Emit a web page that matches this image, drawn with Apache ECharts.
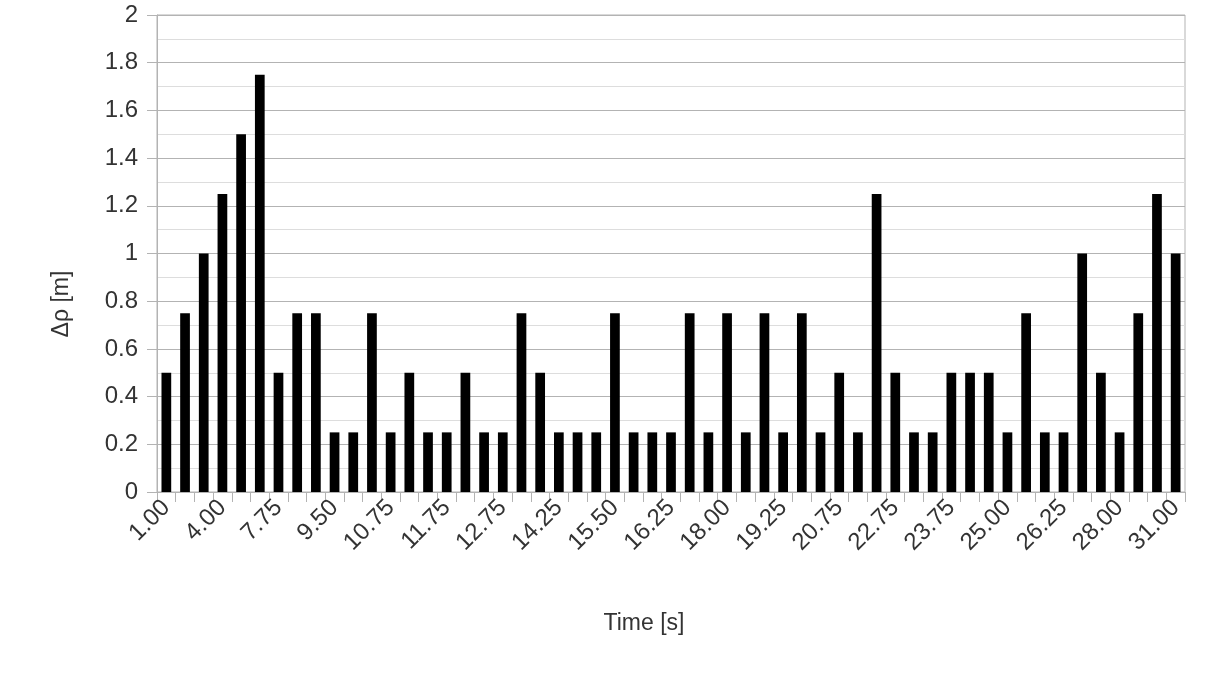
<!DOCTYPE html>
<html>
<head>
<meta charset="utf-8">
<script src="https://cdn.jsdelivr.net/npm/echarts@6/dist/echarts.min.js"></script>
<style>
html,body{margin:0;padding:0;background:#fff;}
#chart{width:1210px;height:680px;}
</style>
</head>
<body>
<div id="chart"></div>
<script>
// Time categories (only every third is labelled in the reference; the others are estimates)
const times = [
  "1.00","2.00","3.00","4.00","5.25","6.50","7.75","8.25","9.00",
  "9.50","9.75","10.25","10.75","11.00","11.50","11.75","12.00","12.50",
  "12.75","13.25","13.75","14.25","14.75","15.25","15.50","15.75","16.00",
  "16.25","16.75","17.50","18.00","18.50","19.00","19.25","19.75","20.25",
  "20.75","21.25","22.00","22.75","23.00","23.50","23.75","24.25","24.75",
  "25.00","25.50","25.75","26.25","26.75","27.50","28.00","29.00","30.00",
  "31.00"
];
// Δρ [m]
const deltaRho = [
  0.5,0.75,1.0,1.25,1.5,1.75,0.5,0.75,0.75,
  0.25,0.25,0.75,0.25,0.5,0.25,0.25,0.5,0.25,
  0.25,0.75,0.5,0.25,0.25,0.25,0.75,0.25,0.25,
  0.25,0.75,0.25,0.75,0.25,0.75,0.25,0.75,0.25,
  0.5,0.25,1.25,0.5,0.25,0.25,0.5,0.5,0.5,
  0.25,0.75,0.25,0.25,1.0,0.5,0.25,0.75,1.25,
  1.0
];
const xTitle = "Time [s]";
const yTitle = "Δρ [m]";

const chart = echarts.init(document.getElementById('chart'));
const font = "'Liberation Sans', Arial, sans-serif";
const FS = 24;
const TFS = 23;
chart.setOption({
  animation: false,
  backgroundColor: '#ffffff',
  grid: {left: 157, top: 15, width: 1028, height: 477, show: true, borderColor: '#b3b3b3', borderWidth: 1, backgroundColor: 'transparent'},
  xAxis: {
    type: 'category',
    data: times,
    boundaryGap: true,
    axisLine: {lineStyle: {color: '#b3b3b3', width: 1}},
    axisTick: {show: true, interval: 0, length: 10, lineStyle: {color: '#b3b3b3'}},
    axisLabel: {interval: 2, rotate: 45, margin: 12, fontSize: FS, color: '#333333', fontFamily: font},
    splitLine: {show: false}
  },
  yAxis: {
    type: 'value',
    min: 0, max: 2, interval: 0.2,
    axisLine: {show: true, lineStyle: {color: '#b3b3b3', width: 1}},
    axisTick: {show: true, length: 10, lineStyle: {color: '#b3b3b3'}},
    axisLabel: {margin: 19, fontSize: FS, color: '#333333', fontFamily: font,
      formatter: v => String(Math.round(v*10)/10)},
    splitLine: {show: true, lineStyle: {color: '#b3b3b3', width: 1}},
    minorTick: {show: false, splitNumber: 2},
    minorSplitLine: {show: true, lineStyle: {color: '#dddddd', width: 1}}
  },
  series: [{
    type: 'bar',
    data: deltaRho,
    barWidth: '52%',
    itemStyle: {color: '#000000'}
  }],
  graphic: [
    {type: 'text', x: 644, y: 612, style: {text: xTitle, fill: '#333333', font: TFS + "px 'Liberation Sans', Arial, sans-serif", textAlign: 'center', textVerticalAlign: 'top'}},
    {type: 'text', x: 50, y: 304, rotation: Math.PI/2, style: {text: yTitle, fill: '#333333', font: TFS + "px 'Liberation Sans', Arial, sans-serif", textAlign: 'center', textVerticalAlign: 'top'}}
  ]
});
</script>
</body>
</html>
